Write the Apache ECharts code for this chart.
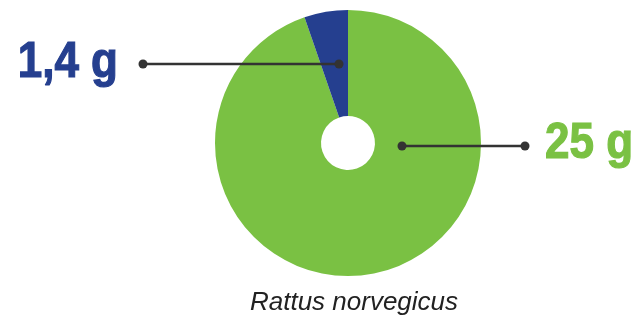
<!DOCTYPE html>
<html>
<head>
<meta charset="utf-8">
<script src="https://cdn.jsdelivr.net/npm/echarts@6/dist/echarts.min.js"></script>
<style>
  html, body { margin: 0; padding: 0; background: #fff; }
  #chart { width: 639px; height: 319px; }
</style>
</head>
<body>
<div id="chart"></div>
<script>
// masse en grammes
const names = ['total', 'part'];
const values = [25, 1.4];
const labels = ['25 g', '1,4 g'];
const colors = ['#7ac143', '#253f8f'];
const species = 'Rattus norvegicus';

const chart = echarts.init(document.getElementById('chart'));

const lineColor = '#333';
const bigFont = 'bold 50px "Liberation Sans", Arial, sans-serif';

// ligne avec deux points
function pointer(x1, x2, y) {
    return [
        { type: 'line', shape: { x1: x1, y1: y, x2: x2, y2: y }, style: { stroke: lineColor, lineWidth: 2.5 }, z: 10 },
        { type: 'circle', shape: { cx: x1, cy: y, r: 4.5 }, style: { fill: lineColor }, z: 10 },
        { type: 'circle', shape: { cx: x2, cy: y, r: 4.5 }, style: { fill: lineColor }, z: 10 }
    ];
}

const option = {
    backgroundColor: '#fff',
    animation: false,
    title: {
        text: species,
        left: 349,
        top: 285,
        textAlign: 'center',
        textStyle: {
            fontFamily: 'Liberation Sans, Arial, sans-serif',
            fontStyle: 'italic',
            fontWeight: 'normal',
            fontSize: 26,
            color: '#222'
        }
    },
    series: [{
        type: 'pie',
        center: [348, 143],
        radius: [27, 133],
        startAngle: 90,
        clockwise: true,
        label: { show: false },
        labelLine: { show: false },
        emphasis: { disabled: true },
        data: names.map((n, i) => ({ name: n, value: values[i], itemStyle: { color: colors[i] } }))
    }],
    graphic: [
        ...pointer(143, 339, 64),
        ...pointer(402, 525, 146),
        {
            type: 'text', x: 118, y: 63, scaleX: 0.88, z: 10,
            style: {
                text: labels[1], fill: colors[1], stroke: colors[1], lineWidth: 1.2,
                align: 'right', verticalAlign: 'middle', font: bigFont
            }
        },
        {
            type: 'text', x: 545, y: 144, scaleX: 0.88, z: 10,
            style: {
                text: labels[0], fill: colors[0], stroke: colors[0], lineWidth: 1.2,
                align: 'left', verticalAlign: 'middle', font: bigFont
            }
        }
    ]
};

chart.setOption(option);
</script>
</body>
</html>
